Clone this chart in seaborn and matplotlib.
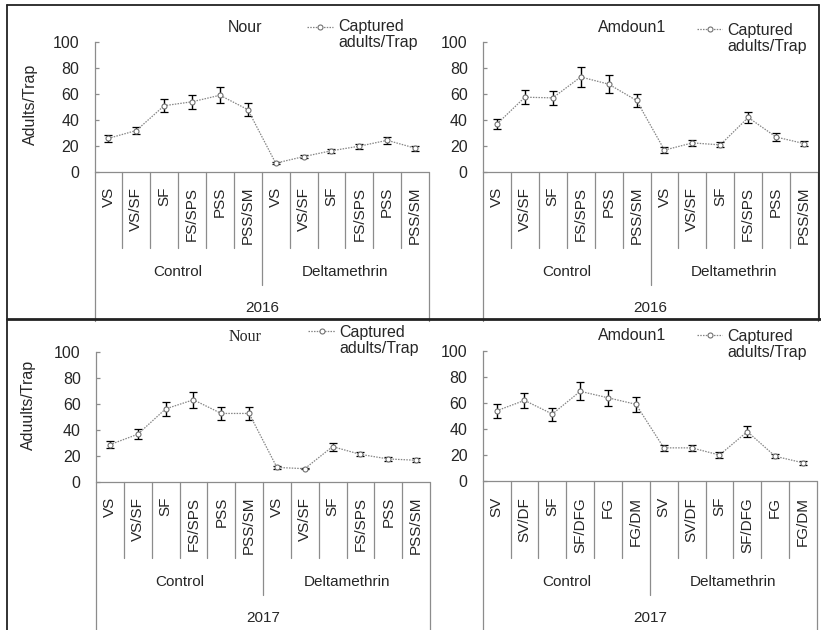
import numpy as np
import pandas as pd
import matplotlib
matplotlib.use("Agg")
import matplotlib.pyplot as plt
from matplotlib.lines import Line2D
import seaborn as sns

# ---------------- data ----------------
stages_2016 = ["VS", "VS/SF", "SF", "FS/SPS", "PSS", "PSS/SM"]
stages_nour_2017 = ["VS", "VS/SF", "SF", "FS/SPS", "PSS", "PSS/SM"]
stages_amd_2017 = ["SV", "SV/DF", "SF", "SF/DFG", "FG", "FG/DM"]
groups = ["Control", "Deltamethrin"]

nour_2016 = [26, 32, 51, 54, 59, 48, 7, 12, 16.5, 20, 24.5, 18.5]
nour_2016_err = [2.5, 3, 5, 5.5, 6, 5, 1, 1, 1.5, 1.8, 2.5, 2]
amd_2016 = [37, 57.5, 57, 73, 67.5, 55, 17, 22.5, 21, 42, 27, 22]
amd_2016_err = [3.5, 5.5, 5.5, 7.5, 7, 5, 2, 2, 2, 4, 3, 2]
nour_2017 = [28.5, 36.5, 56, 63, 52.5, 52.5, 11, 10, 27, 21, 17.5, 16.5]
nour_2017_err = [2.5, 4, 5.5, 6, 5, 5, 1, 0.6, 3, 1.5, 1.5, 1.5]
amd_2017 = [54, 62, 51.5, 69, 64, 59, 25.5, 25.5, 20, 38, 19, 14]
amd_2017_err = [5.5, 6, 5, 7, 6, 6, 2.5, 2.5, 2, 4, 1.5, 1.5]

years = ["2016", "2016", "2017", "2017"]
titles = ["Nour", "Amdoun1", "Nour", "Amdoun1"]
ylabels = ["Adults/Trap", None, "Aduults/Trap", None]
legend_label = ["Captured", "adults/Trap"]

# ---------------- style ----------------
sns.set_style("white")
plt.rcParams["font.family"] = ["Liberation Sans", "DejaVu Sans"]
plt.rcParams["font.size"] = 11

W, H = 821, 630
fig = plt.figure(figsize=(W / 100, H / 100), dpi=100)

def fx(x):
    return x / W

def fy(y):
    return 1 - y / H

GRAY = "#8c8c8c"
LINEGRAY = "#858585"
MEDGE = "#707070"
MSIZE = 3.6

panels = [
    dict(x0=94.5, x1=429, yt=41.7, yb=172.3, sep=248, mid=285, outer=321, lab=187, grp=272, yr=308,
         cats=stages_2016, vals=nour_2016, err=nour_2016_err,
         title_xy=(245, 27), title_font=["Liberation Sans"],
         leg=(307, 333, 27, 338, 27, 43), ylab_xy=(30, 104)),
    dict(x0=483, x1=818, yt=41.7, yb=172.3, sep=248, mid=285, outer=321, lab=187, grp=272, yr=308,
         cats=stages_2016, vals=amd_2016, err=amd_2016_err,
         title_xy=(632, 27), title_font=["Liberation Sans"],
         leg=(697, 722, 29, 727, 30, 47), ylab_xy=None),
    dict(x0=96, x1=430, yt=351.7, yb=481.7, sep=558, mid=595, outer=632, lab=497, grp=582, yr=618,
         cats=stages_nour_2017, vals=nour_2017, err=nour_2017_err,
         title_xy=(245, 337), title_font=["Liberation Serif"],
         leg=(308, 335, 331, 339, 333, 348), ylab_xy=(28, 405)),
    dict(x0=482.7, x1=817, yt=351, yb=481, sep=558, mid=595, outer=632, lab=497, grp=582, yr=618,
         cats=stages_amd_2017, vals=amd_2017, err=amd_2017_err,
         title_xy=(632, 336), title_font=["Liberation Sans"],
         leg=(697, 722, 335, 727, 337, 353), ylab_xy=None),
]

for i, p in enumerate(panels):
    ax = fig.add_axes([fx(p["x0"]), fy(p["yb"]), fx(p["x1"] - p["x0"]), (p["yb"] - p["yt"]) / H])
    cats = p["cats"] + p["cats"]
    pos = np.arange(12) + 0.5
    df = pd.DataFrame({"pos": pos, "val": p["vals"]})

    ax.errorbar(pos, p["vals"], yerr=p["err"], fmt="none", ecolor="black",
                elinewidth=1.0, capsize=3, capthick=0.9, zorder=2)
    sns.lineplot(data=df, x="pos", y="val", ax=ax, color=LINEGRAY, linestyle=(0, (1.2, 1.0)),
                 linewidth=0.9, marker="o", markersize=MSIZE, markerfacecolor="white",
                 markeredgecolor=MEDGE, markeredgewidth=0.8, zorder=3)

    ax.set_xlim(0, 12)
    ax.set_ylim(0, 100)
    ax.set_yticks([0, 20, 40, 60, 80, 100])
    ax.set_xticks([])
    ax.set_xlabel("")
    ax.set_ylabel("")
    for s in ["top", "right", "bottom"]:
        ax.spines[s].set_visible(False)
    ax.spines["left"].set_color(GRAY)
    ax.spines["left"].set_linewidth(0.9)
    ax.tick_params(axis="y", direction="in", length=3, width=0.9, color=GRAY,
                   labelsize=11.5, pad=11, left=True)
    ax.patch.set_alpha(0)

    axh = p["yb"] - p["yt"]
    def ay(py, p=p, axh=axh):
        return (p["yb"] - py) / axh

    tr = ax.get_xaxis_transform()
    # baseline of category axis
    ax.plot([0, 12], [0, 0], transform=tr, color=GRAY, lw=0.9, clip_on=False)
    for k in range(13):
        if k in (0, 12):
            end = p["outer"]
        elif k == 6:
            end = p["mid"]
        else:
            end = p["sep"]
        ax.plot([k, k], [0, ay(end)], transform=tr, color=GRAY, lw=0.9, clip_on=False)
    for k, c in enumerate(cats):
        ax.text(k + 0.5, ay(p["lab"]), c, transform=tr, rotation=90, ha="center", va="top",
                fontsize=11)
    for g, gname in enumerate(groups):
        ax.text(3 + 6 * g, ay(p["grp"]), gname, transform=tr, ha="center", va="center", fontsize=11)
    ax.text(6, ay(p["yr"]), years[i], transform=tr, ha="center", va="center", fontsize=11)

    # title
    tx, ty = p["title_xy"]
    fig.text(fx(tx), fy(ty), titles[i], ha="center", va="center", fontsize=11.5,
             family=p["title_font"])

    # legend (manual)
    lx0, lx1, ly, tx0, ty1, ty2 = p["leg"]
    fig.add_artist(Line2D([fx(lx0), fx(lx1)], [fy(ly), fy(ly)], transform=fig.transFigure,
                          color=LINEGRAY, lw=0.9, linestyle=(0, (1.2, 1.0))))
    fig.add_artist(Line2D([fx((lx0 + lx1) / 2)], [fy(ly)], transform=fig.transFigure,
                          marker="o", markersize=MSIZE, markerfacecolor="white",
                          markeredgecolor=MEDGE, markeredgewidth=0.8, lw=0))
    fig.text(fx(tx0), fy(ty1), legend_label[0], ha="left", va="center", fontsize=11.5)
    fig.text(fx(tx0), fy(ty2), legend_label[1], ha="left", va="center", fontsize=11.5)

    if ylabels[i]:
        ax.set_ylabel(ylabels[i], fontsize=11.5, va="center")
        yx, yy = p["ylab_xy"]
        ax.yaxis.set_label_coords((yx - p["x0"]) / (p["x1"] - p["x0"]), ay(yy))

# outer frame and divider
frame_kw = dict(transform=fig.transFigure, color="#222222")
fig.add_artist(Line2D([fx(6.5), fx(6.5)], [fy(5), fy(632)], lw=1.3, **frame_kw))
fig.add_artist(Line2D([fx(6.5), fx(819)], [fy(5.3), fy(5.3)], lw=1.3, **frame_kw))
fig.add_artist(Line2D([fx(819), fx(819)], [fy(5), fy(320)], lw=1.3, **frame_kw))
fig.add_artist(Line2D([fx(6.5), fx(821)], [fy(319), fy(319)], lw=2.0, **frame_kw))

fig.savefig("out.png", dpi=100, facecolor="white")
